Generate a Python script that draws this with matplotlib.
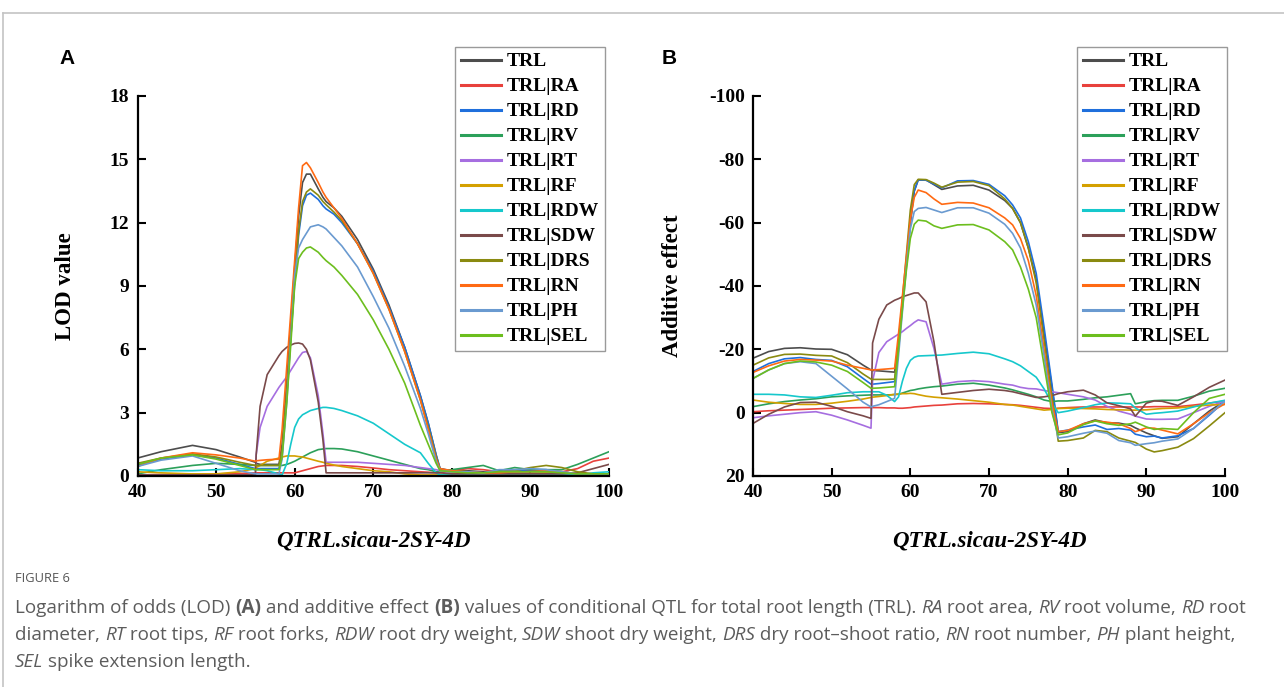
import matplotlib
matplotlib.use("Agg")
import matplotlib.pyplot as plt
from matplotlib.lines import Line2D
from matplotlib.font_manager import FontProperties

plt.rcParams['axes.unicode_minus'] = False

W, H = 1284, 687

# ---------------- data ----------------
SERIES = ["TRL", "TRL|RA", "TRL|RD", "TRL|RV", "TRL|RT", "TRL|RF",
          "TRL|RDW", "TRL|SDW", "TRL|DRS", "TRL|RN", "TRL|PH", "TRL|SEL"]
COLORS = ["#4d4d4d", "#e8413c", "#1f6fdc", "#2ca05a", "#a66ee0", "#d4a000",
          "#16c8cc", "#7a4a4a", "#8a8a10", "#ff6a13", "#6a9ad0", "#6cbe1e"]

XA = [40, 43, 47, 50, 53, 55, 55.1, 55.6, 56.5, 58, 58.4, 59, 59.5, 60, 60.5, 61,
      61.5, 62, 63, 63.6, 64, 65, 66, 68, 70, 72, 74, 76, 77, 78, 78.5, 80, 82,
      84, 86, 88, 90, 92, 94, 96, 98, 100]

A_TRL = [0.85, 1.15, 1.45, 1.25, 0.9, 0.65, 0.6, 0.55, 0.55, 0.55,
         1.5, 4.5, 7.2, 9.9, 12.3, 13.9, 14.3, 14.3, 13.6, 13.2, 13.0, 12.7, 12.3, 11.2, 9.8, 8.1, 6.1, 3.8, 2.5, 1.0,
         0.35, 0.25, 0.25, 0.2, 0.2, 0.2, 0.2, 0.2, 0.15, 0.1, 0.1, 0.1]
A_RA = [0.05, 0.07, 0.08, 0.1, 0.12, 0.15, 0.15, 0.15, 0.15, 0.15,
        0.15, 0.15, 0.15, 0.15, 0.2, 0.25, 0.3, 0.35, 0.45, 0.48, 0.5, 0.5, 0.5, 0.45, 0.38, 0.3, 0.25, 0.2, 0.18, 0.15,
        0.15, 0.25, 0.35, 0.3, 0.2, 0.3, 0.25, 0.25, 0.2, 0.35, 0.7, 0.85]
A_RD = [0.5, 0.8, 1.0, 0.85, 0.55, 0.35, 0.35, 0.35, 0.35, 0.35,
        1.0, 3.8, 6.5, 9.1, 11.4, 12.8, 13.3, 13.4, 13.1, 12.8, 12.65, 12.4, 12.0, 11.0, 9.7, 8.0, 6.1, 3.8, 2.5, 1.0,
        0.35, 0.2, 0.2, 0.15, 0.2, 0.25, 0.3, 0.3, 0.2, 0.1, 0.1, 0.1]
A_RV = [0.1, 0.3, 0.5, 0.6, 0.55, 0.5, 0.5, 0.5, 0.5, 0.5,
        0.5, 0.55, 0.62, 0.7, 0.8, 0.9, 1.0, 1.1, 1.25, 1.28, 1.3, 1.3, 1.28, 1.15, 0.95, 0.75, 0.55, 0.35, 0.3, 0.2,
        0.2, 0.3, 0.4, 0.5, 0.25, 0.4, 0.3, 0.3, 0.3, 0.55, 0.85, 1.15]
A_RT = [0.05, 0.05, 0.05, 0.05, 0.05, 0.05, 1.0, 2.3, 3.3, 4.2,
        4.4, 4.7, 5.0, 5.3, 5.6, 5.85, 5.9, 5.6, 3.8, 2.0, 0.65, 0.65, 0.65, 0.65, 0.6, 0.55, 0.5, 0.4, 0.35, 0.3,
        0.25, 0.15, 0.1, 0.1, 0.1, 0.1, 0.1, 0.1, 0.05, 0.05, 0.05, 0.05]
A_RF = [0.2, 0.15, 0.1, 0.1, 0.2, 0.35, 0.4, 0.5, 0.7, 0.85,
        0.9, 0.95, 0.95, 0.95, 0.92, 0.9, 0.85, 0.8, 0.7, 0.65, 0.6, 0.52, 0.45, 0.35, 0.25, 0.2, 0.1, 0.05, 0.05, 0.05,
        0.05, 0.1, 0.1, 0.1, 0.05, 0.1, 0.1, 0.15, 0.1, 0.05, 0.05, 0.1]
A_RDW = [0.3, 0.25, 0.25, 0.3, 0.35, 0.3, 0.3, 0.3, 0.25, 0.1,
         0.05, 0.6, 1.5, 2.3, 2.7, 2.9, 3.0, 3.1, 3.2, 3.25, 3.25, 3.2, 3.1, 2.85, 2.5, 2.0, 1.5, 1.1, 0.6, 0.15,
         0.05, 0.05, 0.05, 0.05, 0.05, 0.05, 0.05, 0.05, 0.05, 0.05, 0.15, 0.2]
A_SDW = [0.05, 0.05, 0.05, 0.05, 0.05, 0.05, 1.0, 3.3, 4.8, 5.7,
         5.9, 6.1, 6.2, 6.28, 6.3, 6.25, 6.0, 5.5, 3.5, 1.7, 0.15, 0.15, 0.15, 0.15, 0.15, 0.15, 0.15, 0.15, 0.15, 0.15,
         0.15, 0.1, 0.1, 0.1, 0.1, 0.1, 0.1, 0.1, 0.1, 0.15, 0.35, 0.55]
A_DRS = [0.6, 0.85, 1.05, 0.9, 0.65, 0.5, 0.5, 0.5, 0.5, 0.5,
         1.2, 4.0, 6.7, 9.3, 11.6, 13.0, 13.45, 13.6, 13.3, 13.0, 12.85, 12.5, 12.1, 11.0, 9.6, 7.9, 5.9, 3.6, 2.3, 0.9,
         0.3, 0.25, 0.2, 0.15, 0.2, 0.25, 0.4, 0.5, 0.4, 0.2, 0.1, 0.1]
A_RN = [0.45, 0.85, 1.1, 1.0, 0.85, 0.7, 0.72, 0.74, 0.77, 0.8,
        2.2, 5.2, 7.7, 10.2, 12.7, 14.7, 14.85, 14.6, 13.9, 13.45, 13.2, 12.7, 12.2, 11.0, 9.6, 7.9, 5.9, 3.6, 2.2, 0.8,
        0.35, 0.25, 0.2, 0.15, 0.15, 0.2, 0.2, 0.25, 0.2, 0.1, 0.05, 0.05]
A_PH = [0.45, 0.75, 0.95, 0.6, 0.25, 0.1, 0.1, 0.1, 0.1, 0.1,
        0.8, 3.5, 6.5, 9.5, 10.8, 11.2, 11.5, 11.8, 11.9, 11.8, 11.7, 11.3, 10.9, 9.9, 8.5, 7.0, 5.2, 3.2, 2.0, 0.7,
        0.25, 0.2, 0.2, 0.15, 0.3, 0.3, 0.35, 0.3, 0.2, 0.1, 0.05, 0.05]
A_SEL = [0.55, 0.85, 1.0, 0.8, 0.5, 0.3, 0.3, 0.3, 0.3, 0.3,
         0.9, 3.5, 6.2, 9.0, 10.3, 10.6, 10.8, 10.85, 10.6, 10.35, 10.2, 9.9, 9.5, 8.6, 7.4, 6.0, 4.4, 2.4, 1.5, 0.6,
         0.25, 0.2, 0.15, 0.15, 0.2, 0.2, 0.2, 0.2, 0.15, 0.1, 0.1, 0.1]

XB = [40, 42, 44, 46, 48, 50, 52, 54, 55, 55.2, 56, 57, 58, 58.5, 59, 59.5, 60,
      60.5, 61, 62, 63, 64, 66, 68, 70, 72, 73, 74, 75, 76, 77, 78, 78.8, 80, 82,
      83.5, 85, 86.5, 88, 88.6, 90, 91, 92, 94, 96, 98, 100]

B_TRL = [-17.2, -19.3, -20.3, -20.5, -20.1, -20.0, -18.3, -15.0, -13.5,
         -13.3, -13.2, -13.0, -12.8, -22, -35, -47, -60, -70, -73.5, -73.5, -72.0, -70.5,
         -71.6, -71.8, -70.3, -67, -64.5, -60, -52, -42, -25, -8, 6.3,
         6.0, 3.5, 2.3, 3.2, 3.3, 4.0, 4.8, 6.4, 7.3, 8.1, 7.6, 3.5, -0.5, -3.7]
B_RA = [-0.3, -0.6, -0.8, -1.0, -1.2, -1.4, -1.5, -1.6, -1.6,
        -1.6, -1.6, -1.5, -1.5, -1.4, -1.4, -1.5, -1.6, -1.8, -1.9, -2.1, -2.3, -2.4,
        -2.8, -2.9, -2.8, -2.6, -2.5, -2.3, -2.0, -1.7, -1.4, -1.3, -1.4,
        -1.6, -1.8, -1.8, -1.8, -1.8, -1.8, -1.8, -1.8, -1.9, -1.9, -1.9, -2.4, -3.0, -3.7]
B_RD = [-13, -15.5, -17.0, -17.4, -16.8, -16.5, -14.5, -10.8, -9.0,
        -9.0, -9.2, -9.5, -9.8, -21, -34, -47, -60, -70, -73.5, -73.4, -72.2, -71.0,
        -73.2, -73.3, -72.1, -68.5, -65.6, -61.5, -54, -44, -27, -9, 6,
        5.5, 4.5, 3.9, 5.3, 5.0, 5.5, 6.8, 7.6, 7.4, 8.0, 7.3, 5.0, 0.8, -3.7]
B_RV = [-1.9, -2.8, -3.5, -4.0, -4.4, -5.0, -5.3, -5.5, -5.6,
        -5.6, -5.6, -5.6, -5.7, -5.8, -6.2, -6.6, -7.0, -7.2, -7.5, -7.9, -8.2, -8.4,
        -9.0, -9.3, -8.7, -7.8, -7.2, -6.5, -5.8, -5.0, -4.0, -3.5, -3.7,
        -3.7, -4.2, -4.7, -5.0, -5.5, -6.0, -2.8, -3.5, -3.8, -3.9, -3.9, -5.2, -6.8, -7.7]
B_RT = [1.6, 1.0, 0.5, 0.0, -0.3, 0.8, 2.3, 4.0, 4.9,
        -10, -19, -22.4, -24, -24.8, -25.6, -26.6, -27.5, -28.5, -29.3, -28.7, -20.3, -9.0,
        -9.8, -10.1, -9.8, -9.0, -8.7, -8.0, -7.6, -7.5, -7.0, -6.6, -6.3,
        -5.8, -5.0, -4.0, -2.0, -0.5, 0.5, 1.1, 2.0, 2.1, 2.1, 2.0, 0.0, -2.0, -3.7]
B_RF = [-4.0, -3.3, -2.9, -2.6, -2.6, -3.0, -3.6, -4.3, -4.8,
        -4.9, -5.1, -5.4, -5.8, -5.9, -6.0, -6.0, -6.1, -6.0, -5.7, -5.2, -4.9, -4.7,
        -4.3, -3.8, -3.3, -2.6, -2.4, -2.0, -1.6, -1.2, -0.8, -1.0, -1.3,
        -1.4, -1.3, -1.2, -1.0, -0.9, -0.8, -0.8, -0.9, -1.1, -1.3, -1.5, -2.0, -2.4, -2.6]
B_RDW = [-5.8, -5.8, -5.6, -5.0, -4.8, -5.5, -6.3, -6.6, -6.6,
         -6.6, -6.6, -5.5, -3.5, -5.0, -10, -14, -16.5, -17.5, -17.9, -18.0, -18.1, -18.2,
         -18.7, -19.1, -18.6, -17.0, -16.1, -14.8, -13.0, -11.2, -7.5, -3.0, 0.0,
         -0.5, -1.6, -2.5, -3.1, -3.0, -2.8, -1.5, 0.5, 0.2, 0.0, -0.5, -1.8, -3.0, -3.9]
B_SDW = [3.4, 0.5, -1.8, -3.2, -3.3, -2.0, -0.3, 1.0, 1.8,
         -22, -29.5, -34, -35.5, -36, -36.6, -37, -37.4, -37.8, -37.8, -35, -22.4, -5.8,
         -6.4, -7.0, -7.4, -7.0, -6.6, -6.0, -5.4, -4.8, -5.0, -5.4, -6.0,
         -6.6, -7.1, -5.6, -3.1, -2.2, -1.2, 1.1, -3.0, -3.7, -3.6, -2.3, -5.0, -8.0, -10.3]
B_DRS = [-15, -17.3, -18.4, -18.5, -18.1, -17.9, -15.8, -12.2, -10.6,
         -10.5, -10.5, -10.5, -10.6, -22, -36, -50, -64, -72, -73.7, -73.6, -72.5, -71.2,
         -72.8, -73.0, -71.7, -67.5, -64.5, -60, -52, -41, -23, -5, 9,
         8.8, 8.0, 5.6, 6.0, 8.0, 9.0, 9.4, 11.5, 12.4, 12.0, 10.9, 8.2, 4.2, 0.0]
B_RN = [-12.7, -14.8, -16.3, -16.8, -16.6, -16.3, -15.0, -14.0, -13.5,
        -13.5, -13.6, -13.8, -14.0, -25, -37, -49, -61, -68, -70.3, -69.5, -67.5, -65.8,
        -66.4, -66.2, -64.7, -61.5, -59.3, -55, -48, -37, -20, -3, 6,
        5.6, 3.5, 2.6, 3.0, 3.5, 5.0, 6.0, 4.8, 4.9, 5.5, 6.7, 3.5, 0.0, -2.8]
B_PH = [-10.8, -13.5, -15.5, -16.1, -15.5, -11.5, -7.5, -3.3, -1.8,
        -2.0, -2.5, -3.5, -4.5, -18, -32, -46, -58, -63.5, -64.5, -64.8, -64.0, -63.2,
        -64.7, -64.7, -63.0, -59.5, -56.6, -52, -44, -34, -18, -1, 8,
        7.6, 6.5, 5.8, 6.5, 8.8, 9.5, 10.3, 9.8, 9.5, 9.0, 8.3, 5.0, 0.5, -3.7]
B_SEL = [-10.8, -13.5, -15.5, -16.3, -16.0, -15.0, -13.0, -9.5, -7.7,
         -7.7, -7.8, -8.0, -8.2, -20, -33, -45, -55, -59.5, -60.8, -60.5, -59.0, -58.2,
         -59.3, -59.4, -57.7, -54, -51.4, -46, -39, -30, -15, 0, 7,
         6.4, 3.8, 2.6, 3.5, 4.0, 3.5, 3.0, 4.5, 5.3, 5.0, 5.3, 0.0, -4.5, -5.8]

A_VALUES = [A_TRL, A_RA, A_RD, A_RV, A_RT, A_RF, A_RDW, A_SDW, A_DRS, A_RN, A_PH, A_SEL]
B_VALUES = [B_TRL, B_RA, B_RD, B_RV, B_RT, B_RF, B_RDW, B_SDW, B_DRS, B_RN, B_PH, B_SEL]

X_TICKS = [40, 50, 60, 70, 80, 90, 100]
A_YTICKS = [0, 3, 6, 9, 12, 15, 18]
B_YTICKS = [-100, -80, -60, -40, -20, 0, 20]

# ---------------- figure ----------------
fig = plt.figure(figsize=(W / 100, H / 100), dpi=100)
fig.patch.set_facecolor("white")

SERIF = "Liberation Serif"
tick_fp = FontProperties(family=SERIF, weight="bold", size=14)
lab_fp = FontProperties(family=SERIF, weight="bold", size=16.5)
xlab_fp = FontProperties(family=SERIF, weight="bold", style="italic", size=16.5)
leg_fp = FontProperties(family=SERIF, weight="bold", size=14)


def px_rect(l, t, r, b):
    return [l / W, 1 - b / H, (r - l) / W, (b - t) / H]


def style_axes(ax, yticks, ylabel, ylab_x):
    for s in ["top", "right"]:
        ax.spines[s].set_visible(False)
    for s in ["left", "bottom"]:
        ax.spines[s].set_linewidth(1.6)
    ax.set_xlim(40, 100)
    ax.set_xticks(X_TICKS)
    ax.set_yticks(yticks)
    ax.tick_params(direction="in", length=6, width=1.5, pad=6)
    for lab in ax.get_xticklabels() + ax.get_yticklabels():
        lab.set_fontproperties(tick_fp)
    ax.set_ylabel(ylabel, fontproperties=lab_fp)
    ax.yaxis.set_label_coords(ylab_x, 0.5)
    ax.yaxis.label.set_va("center")
    ax.set_xlabel("QTRL.sicau-2SY-4D", fontproperties=xlab_fp)
    ax.xaxis.set_label_coords(0.5, -0.17)
    ax.xaxis.label.set_va("center")


def add_legend(ax, lines, left_px, top_px):
    leg = ax.legend(lines, SERIES, prop=leg_fp, loc="upper left",
                    bbox_to_anchor=(left_px / W, 1 - top_px / H),
                    bbox_transform=fig.transFigure, borderaxespad=0,
                    frameon=True, fancybox=False, framealpha=1,
                    edgecolor="#9a9a9a", labelspacing=0.38, handlelength=2.05,
                    handletextpad=0.3, borderpad=0.3)
    leg.get_frame().set_linewidth(1.0)
    for ln in leg.get_lines():
        ln.set_linewidth(2.2)
    return leg


# Panel A
axA = fig.add_axes(px_rect(137.5, 96, 609, 476))
linesA = []
for vals, col in zip(A_VALUES, COLORS):
    ln, = axA.plot(XA, vals, color=col, lw=1.2, solid_joinstyle="round")
    linesA.append(ln)
axA.set_ylim(0, 18)
style_axes(axA, A_YTICKS, "LOD value", -0.152)
add_legend(axA, linesA, 455, 47)

# Panel B
axB = fig.add_axes(px_rect(753, 96, 1225, 476))
linesB = []
for vals, col in zip(B_VALUES, COLORS):
    ln, = axB.plot(XB, vals, color=col, lw=1.2, solid_joinstyle="round")
    linesB.append(ln)
axB.set_ylim(20, -100)
style_axes(axB, B_YTICKS, "Additive effect", -0.17)
add_legend(axB, linesB, 1077, 47)

# panel letters
fig.text(67 / W, 1 - 58 / H, "A", family="Liberation Sans", weight="bold",
         size=15, ha="center", va="center", color="black")
fig.text(669 / W, 1 - 58 / H, "B", family="Liberation Sans", weight="bold",
         size=15, ha="center", va="center", color="black")

# outer frame of the figure card
fig.add_artist(Line2D([3 / W, 1], [1 - 13 / H, 1 - 13 / H], transform=fig.transFigure,
                      color="#c4c4c4", lw=1.2))
fig.add_artist(Line2D([3 / W, 3 / W], [0, 1 - 13 / H], transform=fig.transFigure,
                      color="#c4c4c4", lw=1.2))

# ---------------- caption ----------------
renderer = fig.canvas.get_renderer()
CAP_FAMILY = "Open Sans"
CAP_COLOR = "#5c5c5c"


def adv_width(s, size, style, weight):
    t1 = fig.text(0, 0, "x" + s + "x", size=size, family=CAP_FAMILY, style=style, weight=weight)
    t2 = fig.text(0, 0, "xx", size=size, family=CAP_FAMILY, style=style, weight=weight)
    w = t1.get_window_extent(renderer).width - t2.get_window_extent(renderer).width
    t1.remove()
    t2.remove()
    return w


def draw_runs(runs, x_px, y_px, size):
    x = x_px
    for s, style, weight in runs:
        fig.text(x / W, 1 - y_px / H, s, size=size, family=CAP_FAMILY, style=style,
                 weight=weight, color=CAP_COLOR, ha="left", va="center")
        x += adv_width(s, size, style, weight)
    return x


N, I, B = "normal", "italic", "bold"
line1 = [("Logarithm of odds (LOD) ", N, N), ("(A)", N, B), (" and additive effect ", N, N),
         ("(B)", N, B), (" values of conditional QTL for total root length (TRL). ", N, N),
         ("RA", I, N), (" root area, ", N, N), ("RV", I, N), (" root volume, ", N, N),
         ("RD", I, N), (" root", N, N)]
line2 = [("diameter, ", N, N), ("RT", I, N), (" root tips, ", N, N), ("RF", I, N),
         (" root forks, ", N, N), ("RDW", I, N), (" root dry weight, ", N, N), ("SDW", I, N),
         (" shoot dry weight, ", N, N), ("DRS", I, N), (" dry root\u2013shoot ratio, ", N, N),
         ("RN", I, N), (" root number, ", N, N), ("PH", I, N), (" plant height,", N, N)]
line3 = [("SEL", I, N), (" spike extension length.", N, N)]

base = 10.0
w1 = sum(adv_width(s, base, st, wt) for s, st, wt in line1)
cap_size = base * (1235.0 / w1)

fig.text(15 / W, 1 - 578 / H, "FIGURE 6", size=cap_size * 0.68, family=CAP_FAMILY,
         color="#555555", ha="left", va="center")
draw_runs(line1, 15, 608, cap_size)
draw_runs(line2, 15, 635, cap_size)
draw_runs(line3, 15, 662, cap_size)

fig.savefig("out.png", dpi=100)
